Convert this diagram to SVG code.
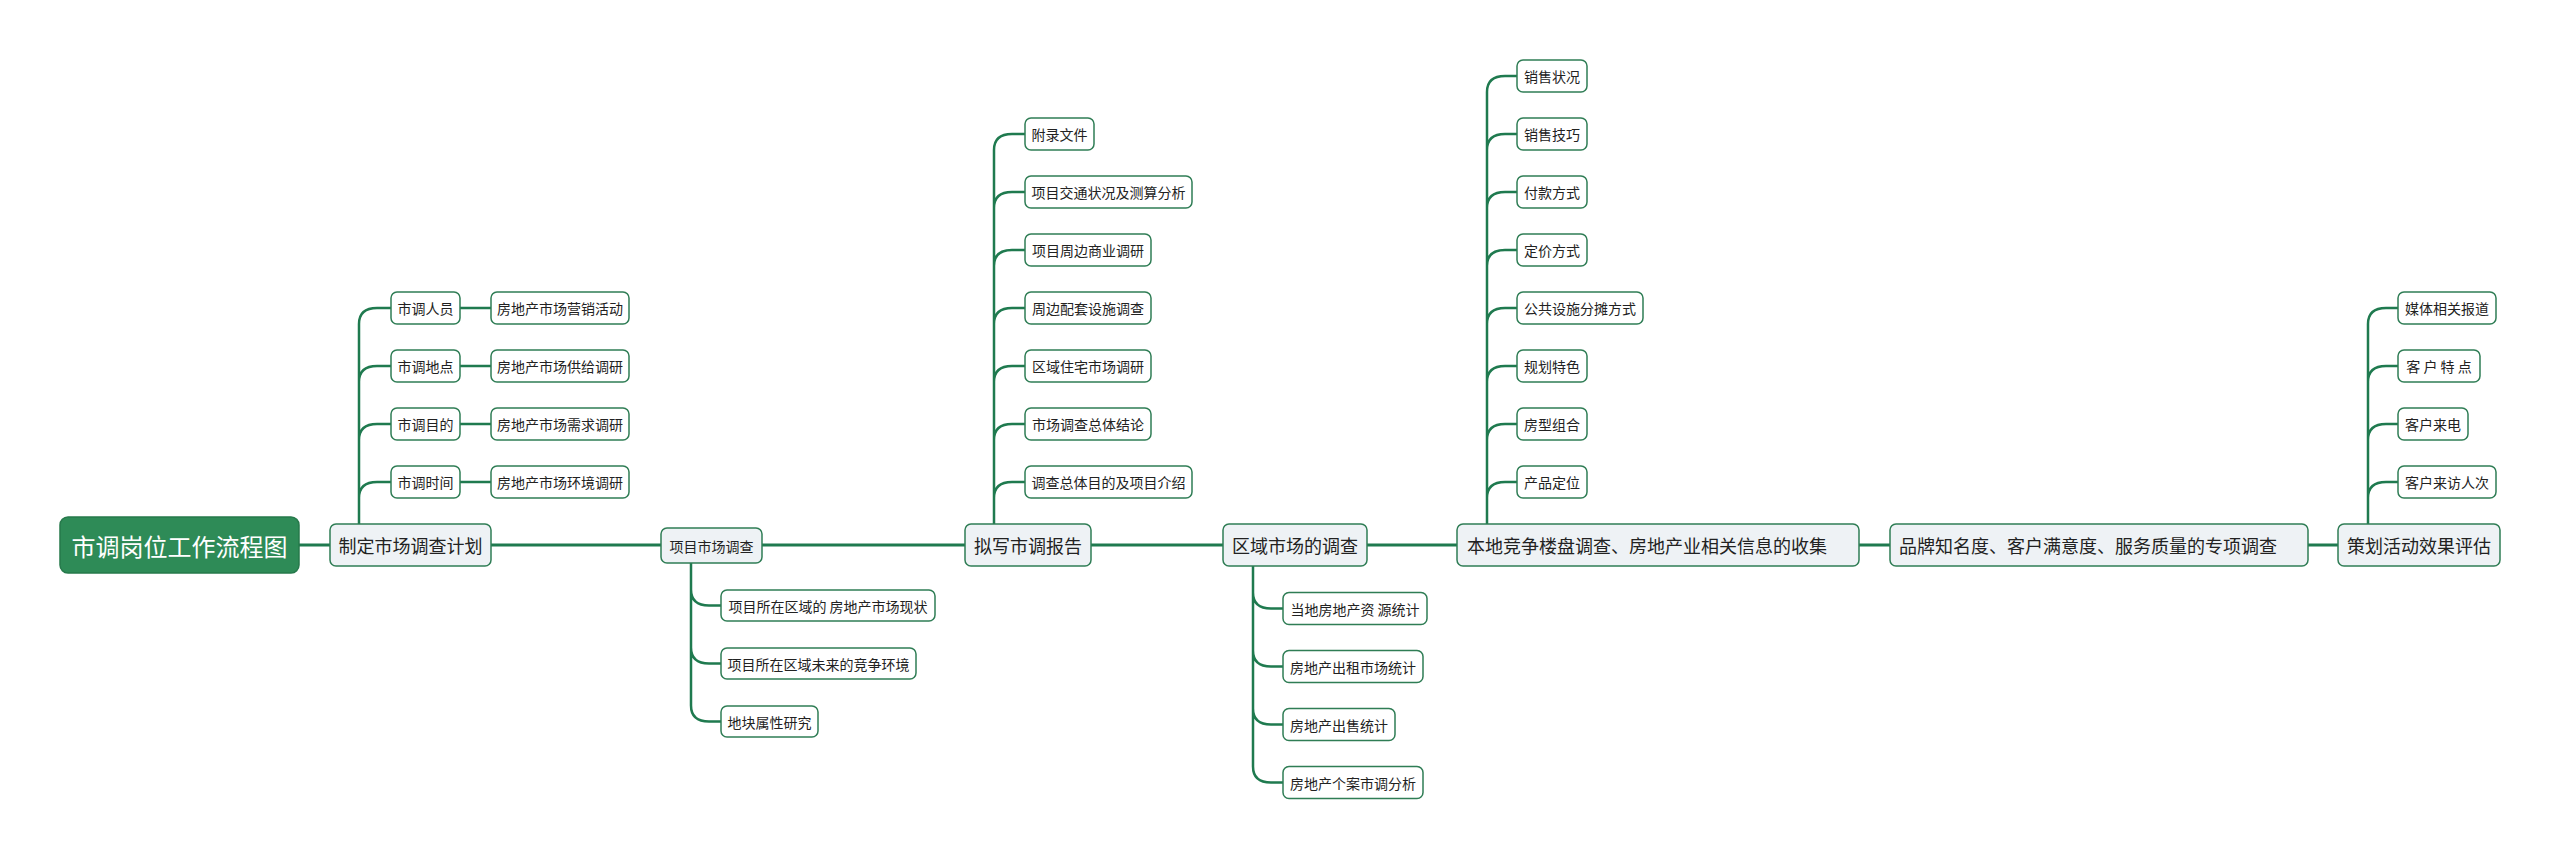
<svg xmlns="http://www.w3.org/2000/svg" width="2560" height="859" viewBox="0 0 2560 859">
<style>
text{font-family:"Noto Sans CJK SC","Noto Sans",sans-serif;fill:#222;text-anchor:middle;dominant-baseline:central}
.root rect{fill:#2e8b57;stroke:#26794b;stroke-width:1.5}
.root text{fill:#fff;font-size:24px}
.main rect{fill:#eef2f5;stroke:#2f7d55;stroke-width:1.5}
.main text{font-size:18px}
.main text.l{text-anchor:start}
.sub rect{fill:#eef2f5;stroke:#2f7d55;stroke-width:1.5}
.sub text{font-size:14px}
.leaf rect{fill:#fff;stroke:#2f7d55;stroke-width:1.5}
.leaf text{font-size:14px}
.c path{fill:none;stroke:#1f7a4f;stroke-linecap:round}
.c .m{stroke-width:3}
.c .b{stroke-width:2.5}
</style>
<rect width="2560" height="859" fill="#fff"/>
<g class="c" id="connectors">
<path class="m" d="M299 545H330M491 545H661M762 545H965M1091 545H1223M1367 545H1457M1859 545H1890M2308 545H2338"/>
<path class="b" d="M359 524V324M359 324Q359 308 377 308H391M359 382Q359 366 377 366H391M359 440Q359 424 377 424H391M359 498Q359 482 377 482H391"/>
<path class="b" d="M460 308H491M460 366H491M460 424H491M460 482H491"/>
<path class="b" d="M691 563V705.5M691 589.5Q691 605.5 709 605.5H721M691 647.5Q691 663.5 709 663.5H721M691 705.5Q691 721.5 709 721.5H721"/>
<path class="b" d="M994 524V150M994 150Q994 134 1012 134H1025M994 208Q994 192 1012 192H1025M994 266Q994 250 1012 250H1025M994 324Q994 308 1012 308H1025M994 382Q994 366 1012 366H1025M994 440Q994 424 1012 424H1025M994 498Q994 482 1012 482H1025"/>
<path class="b" d="M1253 566V766.5M1253 592.5Q1253 608.5 1271 608.5H1283M1253 650.5Q1253 666.5 1271 666.5H1283M1253 708.5Q1253 724.5 1271 724.5H1283M1253 766.5Q1253 782.5 1271 782.5H1283"/>
<path class="b" d="M1487 524V92M1487 92Q1487 76 1505 76H1517M1487 150Q1487 134 1505 134H1517M1487 208Q1487 192 1505 192H1517M1487 266Q1487 250 1505 250H1517M1487 324Q1487 308 1505 308H1517M1487 382Q1487 366 1505 366H1517M1487 440Q1487 424 1505 424H1517M1487 498Q1487 482 1505 482H1517"/>
<path class="b" d="M2368 524V324M2368 324Q2368 308 2386 308H2398M2368 382Q2368 366 2386 366H2398M2368 440Q2368 424 2386 424H2398M2368 498Q2368 482 2386 482H2398"/>
</g>
<g id="root" class="root"><rect x="60" y="517" width="239" height="56" rx="8"/><text x="179.5" y="545">市调岗位工作流程图</text></g>
<g id="n1" class="main"><rect x="330" y="524" width="161" height="42" rx="6"/><text x="410.5" y="545">制定市场调查计划</text></g>
<g id="n1a" class="leaf"><rect x="391" y="292" width="69" height="32" rx="6"/><text x="425.5" y="308">市调人员</text></g>
<g id="n1b" class="leaf"><rect x="391" y="350" width="69" height="32" rx="6"/><text x="425.5" y="366">市调地点</text></g>
<g id="n1c" class="leaf"><rect x="391" y="408" width="69" height="32" rx="6"/><text x="425.5" y="424">市调目的</text></g>
<g id="n1d" class="leaf"><rect x="391" y="466" width="69" height="32" rx="6"/><text x="425.5" y="482">市调时间</text></g>
<g id="n1a1" class="leaf"><rect x="491" y="292" width="138" height="32" rx="6"/><text x="560" y="308">房地产市场营销活动</text></g>
<g id="n1b1" class="leaf"><rect x="491" y="350" width="138" height="32" rx="6"/><text x="560" y="366">房地产市场供给调研</text></g>
<g id="n1c1" class="leaf"><rect x="491" y="408" width="138" height="32" rx="6"/><text x="560" y="424">房地产市场需求调研</text></g>
<g id="n1d1" class="leaf"><rect x="491" y="466" width="138" height="32" rx="6"/><text x="560" y="482">房地产市场环境调研</text></g>
<g id="n2" class="sub"><rect x="661" y="528" width="101" height="35" rx="6"/><text x="711.5" y="545.5">项目市场调查</text></g>
<g id="n2a" class="leaf"><rect x="721" y="590" width="214" height="31" rx="6"/><text x="828" y="605.5">项目所在区域的 房地产市场现状</text></g>
<g id="n2b" class="leaf"><rect x="721" y="648" width="195" height="31" rx="6"/><text x="818.5" y="663.5">项目所在区域未来的竞争环境</text></g>
<g id="n2c" class="leaf"><rect x="721" y="706" width="97" height="31" rx="6"/><text x="769.5" y="721.5">地块属性研究</text></g>
<g id="n3" class="main"><rect x="965" y="524" width="126" height="42" rx="6"/><text x="1028" y="545">拟写市调报告</text></g>
<g id="n3a" class="leaf"><rect x="1025" y="118" width="69" height="32" rx="6"/><text x="1059.5" y="134">附录文件</text></g>
<g id="n3b" class="leaf"><rect x="1025" y="176" width="167" height="32" rx="6"/><text x="1108.5" y="192">项目交通状况及测算分析</text></g>
<g id="n3c" class="leaf"><rect x="1025" y="234" width="126" height="32" rx="6"/><text x="1088" y="250">项目周边商业调研</text></g>
<g id="n3d" class="leaf"><rect x="1025" y="292" width="126" height="32" rx="6"/><text x="1088" y="308">周边配套设施调查</text></g>
<g id="n3e" class="leaf"><rect x="1025" y="350" width="126" height="32" rx="6"/><text x="1088" y="366">区域住宅市场调研</text></g>
<g id="n3f" class="leaf"><rect x="1025" y="408" width="126" height="32" rx="6"/><text x="1088" y="424">市场调查总体结论</text></g>
<g id="n3g" class="leaf"><rect x="1025" y="466" width="167" height="32" rx="6"/><text x="1108.5" y="482">调查总体目的及项目介绍</text></g>
<g id="n4" class="main"><rect x="1223" y="524" width="144" height="42" rx="6"/><text x="1295" y="545">区域市场的调查</text></g>
<g id="n4a" class="leaf"><rect x="1283" y="592.5" width="144" height="32" rx="6"/><text x="1355" y="608.5">当地房地产资 源统计</text></g>
<g id="n4b" class="leaf"><rect x="1283" y="650.5" width="140" height="32" rx="6"/><text x="1353" y="666.5">房地产出租市场统计</text></g>
<g id="n4c" class="leaf"><rect x="1283" y="708.5" width="112" height="32" rx="6"/><text x="1339" y="724.5">房地产出售统计</text></g>
<g id="n4d" class="leaf"><rect x="1283" y="766.5" width="140" height="32" rx="6"/><text x="1353" y="782.5">房地产个案市调分析</text></g>
<g id="n5" class="main"><rect x="1457" y="524" width="402" height="42" rx="6"/><text class="l" x="1467" y="545">本地竞争楼盘调查、房地产业相关信息的收集</text></g>
<g id="n5a" class="leaf"><rect x="1517" y="60" width="70" height="32" rx="6"/><text x="1552" y="76">销售状况</text></g>
<g id="n5b" class="leaf"><rect x="1517" y="118" width="70" height="32" rx="6"/><text x="1552" y="134">销售技巧</text></g>
<g id="n5c" class="leaf"><rect x="1517" y="176" width="70" height="32" rx="6"/><text x="1552" y="192">付款方式</text></g>
<g id="n5d" class="leaf"><rect x="1517" y="234" width="70" height="32" rx="6"/><text x="1552" y="250">定价方式</text></g>
<g id="n5e" class="leaf"><rect x="1517" y="292" width="126" height="32" rx="6"/><text x="1580" y="308">公共设施分摊方式</text></g>
<g id="n5f" class="leaf"><rect x="1517" y="350" width="70" height="32" rx="6"/><text x="1552" y="366">规划特色</text></g>
<g id="n5g" class="leaf"><rect x="1517" y="408" width="70" height="32" rx="6"/><text x="1552" y="424">房型组合</text></g>
<g id="n5h" class="leaf"><rect x="1517" y="466" width="70" height="32" rx="6"/><text x="1552" y="482">产品定位</text></g>
<g id="n6" class="main"><rect x="1890" y="524" width="418" height="42" rx="6"/><text class="l" x="1899" y="545">品牌知名度、客户满意度、服务质量的专项调查</text></g>
<g id="n7" class="main"><rect x="2338" y="524" width="162" height="42" rx="6"/><text x="2419" y="545">策划活动效果评估</text></g>
<g id="n7a" class="leaf"><rect x="2398" y="292" width="98" height="32" rx="6"/><text x="2447" y="308">媒体相关报道</text></g>
<g id="n7b" class="leaf"><rect x="2398" y="350" width="82" height="32" rx="6"/><text x="2439" y="366">客 户 特 点</text></g>
<g id="n7c" class="leaf"><rect x="2398" y="408" width="70" height="32" rx="6"/><text x="2433" y="424">客户来电</text></g>
<g id="n7d" class="leaf"><rect x="2398" y="466" width="98" height="32" rx="6"/><text x="2447" y="482">客户来访人次</text></g>
</svg>
